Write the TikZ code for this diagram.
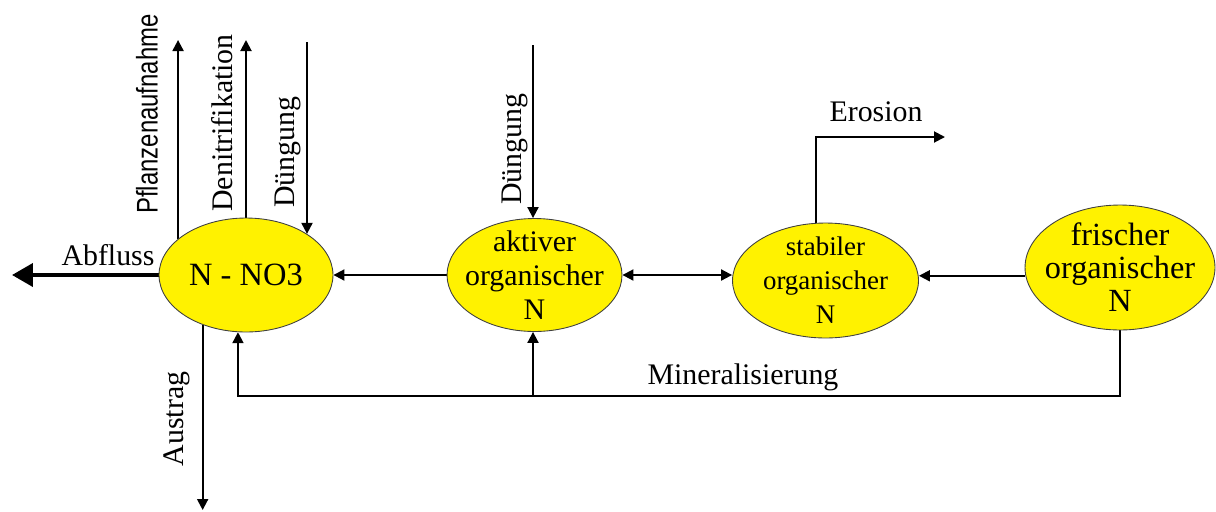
\documentclass[tikz,border=0pt]{standalone}
\usepackage{fontspec}
\setmainfont{Liberation Serif}
\newfontfamily\narrowsans[FakeStretch=0.8]{Liberation Sans}
\usepackage{tikz}
\usetikzlibrary{shapes,arrows.meta}
\pgfdeclarelayer{edgelayer}
\pgfdeclarelayer{nodelayer}
\pgfsetlayers{edgelayer,nodelayer,main}
\tikzstyle{none}=[inner sep=0pt]
\tikzstyle{pool}=[ellipse,fill=yellow,draw=black!75,line width=0.5pt,inner sep=-0.3cm,align=center]
\tikzstyle{flowtext}=[inner sep=0pt,font=\fontsize{17}{20}\selectfont]
\tikzstyle{sidetext}=[flowtext,rotate=90]
\tikzstyle{inarrow}=[-{Triangle[length=0.22cm,width=0.22cm]},line width=1.1pt]
\tikzstyle{biarrow}=[{Triangle[length=0.22cm,width=0.22cm]}-{Triangle[length=0.22cm,width=0.22cm]},line width=1.1pt]
\tikzstyle{outflow}=[-{Triangle[length=0.42cm,width=0.46cm]},line width=2.3pt]
\tikzstyle{simple}=[-,line width=1.1pt]
\begin{document}
\begin{tikzpicture}[x=0.02cm,y=-0.02cm]
	\useasboundingbox (0,0) rectangle (1216,511);
	\begin{pgfonlayer}{nodelayer}
		\node [style=pool, minimum width=3.48cm, minimum height=2.28cm, font=\fontsize{18.5}{21}\selectfont] (no3) at (246, 275) {N - NO3};
		\node [style=pool, minimum width=3.5cm, minimum height=2.26cm, font=\fontsize{17}{19.3}\selectfont] (aktiv) at (534.5, 275) {aktiver\\organischer\\N};
		\node [style=pool, minimum width=3.72cm, minimum height=2.3cm, font=\fontsize{15.3}{19.3}\selectfont] (stabil) at (825.5, 280.5) {stabiler\\organischer\\N};
		\node [style=pool, minimum width=3.8cm, minimum height=2.5cm, font=\fontsize{18.4}{18.8}\selectfont] (frisch) at (1120, 267.5) {frischer\\organischer\\N};
		\coordinate (pflTop) at (178, 40);
		\coordinate (denTop) at (246, 40);
		\coordinate (duengTop) at (306, 42);
		\coordinate (duengTop2) at (533, 45);
		\coordinate (austragEnd) at (203, 510);
		\coordinate (abflussEnd) at (12, 275);
		\coordinate (erosEnd) at (945, 137);
		\coordinate (mineral) at (533, 396);
		\node [style=flowtext] (abflussText) at (108, 255) {Abfluss};
		\node [style=sidetext, font=\fontsize{17}{20}\narrowsans] (pflText) at (147, 114) {Pflanzenaufnahme};
		\node [style=sidetext] (denText) at (222, 123) {Denitrifikation};
		\node [style=sidetext] (duengText) at (288, 152) {Düngung};
		\node [style=sidetext] (duengText2) at (515, 149) {Düngung};
		\node [style=sidetext] (austragText) at (177, 419) {Austrag};
		\node [style=flowtext] (erosText) at (876, 112) {Erosion};
		\node [style=flowtext] (mineralText) at (743, 377) {Mineralisierung};
	\end{pgfonlayer}
	\begin{pgfonlayer}{edgelayer}
		\draw [style=outflow] (no3.west) to (abflussEnd);
		\draw [style=inarrow] (no3.152.4) to (no3.152.4 |- pflTop);
		\draw [style=inarrow] (no3) to (denTop);
		\draw [style=inarrow] (no3.34.5 |- duengTop) to (no3.34.5);
		\draw [style=inarrow] (no3.229) to (no3.229 |- austragEnd);
		\draw [style=inarrow] (aktiv) to (no3);
		\draw [style=inarrow] (duengTop2) to (duengTop2 |- aktiv.north);
		\draw [style=biarrow] (aktiv.east) to (aktiv.east -| stabil.west);
		\draw [style=inarrow] (frisch.185) to (frisch.185 -| stabil.east);
		\draw [style=inarrow] (stabil.99) |- (erosEnd);
		\draw [style=inarrow] (frisch.south) |- (mineral) -| (no3.262);
		\draw [style=inarrow] (mineral) to (mineral |- aktiv.south);
	\end{pgfonlayer}
\end{tikzpicture}
\end{document}
